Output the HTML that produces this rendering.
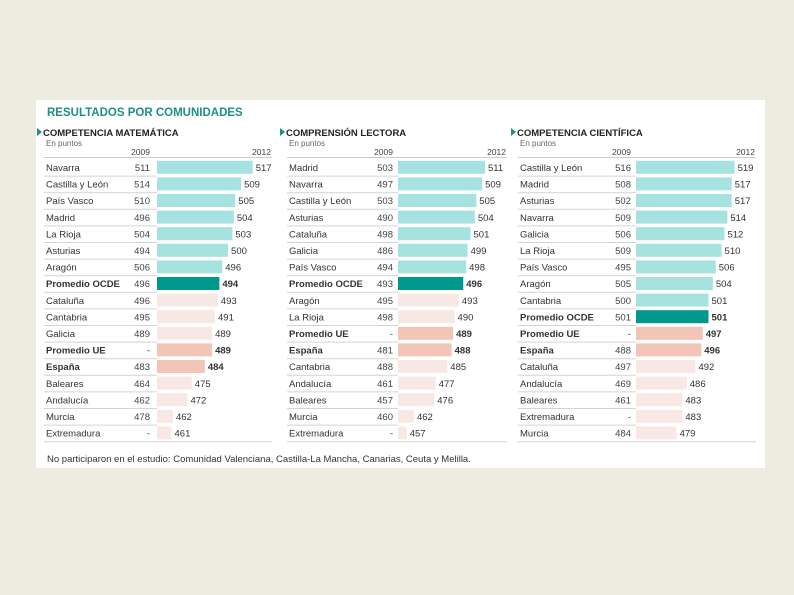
<!DOCTYPE html>
<html><head><meta charset="utf-8"><style>
body{margin:0;width:794px;height:595px;background:#eeebe1;font-family:"Liberation Sans",sans-serif;position:relative;overflow:hidden}
#card{position:absolute;left:36px;top:100px;width:729px;height:368px;background:#fff}
.t{position:absolute;white-space:nowrap;color:#333;font-size:10px;line-height:12px}
</style></head><body>
<div id="card"></div>
<svg id="chart" width="794" height="595" style="position:absolute;left:0;top:0" font-family="Liberation Sans, sans-serif"></svg>
<script>
const mathCats=["Navarra","Castilla y León","País Vasco","Madrid","La Rioja","Asturias","Aragón","Promedio OCDE","Cataluña","Cantabria","Galicia","Promedio UE","España","Baleares","Andalucía","Murcia","Extremadura"];
const math2009=["511","514","510","496","504","494","506","496","496","495","489","-","483","464","462","478","-"];
const math2012=[517,509,505,504,503,500,496,494,493,491,489,489,484,475,472,462,461];
const readCats=["Madrid","Navarra","Castilla y León","Asturias","Cataluña","Galicia","País Vasco","Promedio OCDE","Aragón","La Rioja","Promedio UE","España","Cantabria","Andalucía","Baleares","Murcia","Extremadura"];
const read2009=["503","497","503","490","498","486","494","493","495","498","-","481","488","461","457","460","-"];
const read2012=[511,509,505,504,501,499,498,496,493,490,489,488,485,477,476,462,457];
const sciCats=["Castilla y León","Madrid","Asturias","Navarra","Galicia","La Rioja","País Vasco","Aragón","Cantabria","Promedio OCDE","Promedio UE","España","Cataluña","Andalucía","Baleares","Extremadura","Murcia"];
const sci2009=["516","508","502","509","506","509","495","505","500","501","-","488","497","469","461","-","484"];
const sci2012=[519,517,517,514,512,510,506,504,501,501,497,496,492,486,483,483,479];
const titles=["COMPETENCIA MATEMÁTICA","COMPRENSIÓN LECTORA","COMPETENCIA CIENTÍFICA"];
const panels=[
 {x:46,valR:150,bar:157,w:228,cats:mathCats,v09:math2009,v12:math2012},
 {x:289,valR:393,bar:398,w:220,cats:readCats,v09:read2009,v12:read2012},
 {x:520,valR:631,bar:636,w:238,cats:sciCats,v09:sci2009,v12:sci2012}];
const svg=document.getElementById('chart');
const NS='http://www.w3.org/2000/svg';
function el(tag,attrs,txt){const e=document.createElementNS(NS,tag);for(const k in attrs)e.setAttribute(k,attrs[k]);if(txt!==undefined)e.textContent=txt;svg.appendChild(e);return e;}
const base=451,scale=1.45,rowY0=159,pitch=16.6,barH=13;
function xLen(v){return (v-base)*scale;}
function rowY(i){return rowY0+i*pitch;}
let t=el('text',{x:47,y:116,'font-size':11.5,'font-weight':'bold',fill:'#1f8f86'},'RESULTADOS POR COMUNIDADES');

panels.forEach((p,pi)=>{
 const hx=p.x-9;
 let a=el('path',{d:`M${hx} 128 l5 4 l-5 4 z`,fill:'#1f8f86'});
 
 let h=el('text',{x:hx+6,y:136,'font-size':9.5,'font-weight':'bold',fill:'#222'},titles[pi]);
 
 let u=el('text',{x:p.x,y:146,'font-size':8,fill:'#666'},'En puntos');
 
 let y1=el('text',{x:p.valR,y:155,'font-size':8.5,fill:'#444','text-anchor':'end'},'2009');
 
 let y2=el('text',{x:p.x+p.w-3,y:155,'font-size':8.5,fill:'#444','text-anchor':'end'},'2012');
 
 let tl=el('line',{x1:p.x-2,x2:p.x+p.w-2,y1:157.5,y2:157.5,stroke:'#ccc','stroke-width':1});
 
 p.cats.forEach((c,i)=>{
  const y=rowY(i);
  const bold=/Promedio|España/.test(c);
  let fill,tc;
  if(c==='Promedio OCDE'){fill='#00978c';}
  else if(c==='Promedio UE'||c==='España'){fill='#f2c5b6';}
  else if(i<p.cats.indexOf('Promedio OCDE')){fill='#a6e2df';}
  else fill='#f8e8e3';
  let r=el('rect',{x:p.bar,y:y+1.8,width:xLen(p.v12[i]),height:barH,fill:fill});
  
  let lb=el('text',{x:p.x,y:y+12,'font-size':9.5,fill:'#333','font-weight':bold?'bold':'normal'},c);
  
  let v9=el('text',{x:p.valR,y:y+12,'font-size':9.5,fill:'#444','text-anchor':'end'},p.v09[i]);
  
  let v2=el('text',{x:p.bar+xLen(p.v12[i])+3,y:y+12,'font-size':9.5,fill:'#333','font-weight':bold?'bold':'normal'},String(p.v12[i]));
  
  const last=i===p.cats.length-1;
  let ln=el('line',{x1:p.x-2,x2:last?p.x+p.w-2:p.bar,y1:y+pitch+0.5,y2:y+pitch+0.5,stroke:'#d4d4d4','stroke-width':1});
  
 });
});
let n=el('text',{x:47,y:462,'font-size':9.5,fill:'#333'},'No participaron en el estudio: Comunidad Valenciana, Castilla-La Mancha, Canarias, Ceuta y Melilla.');

</script>
</body></html>
